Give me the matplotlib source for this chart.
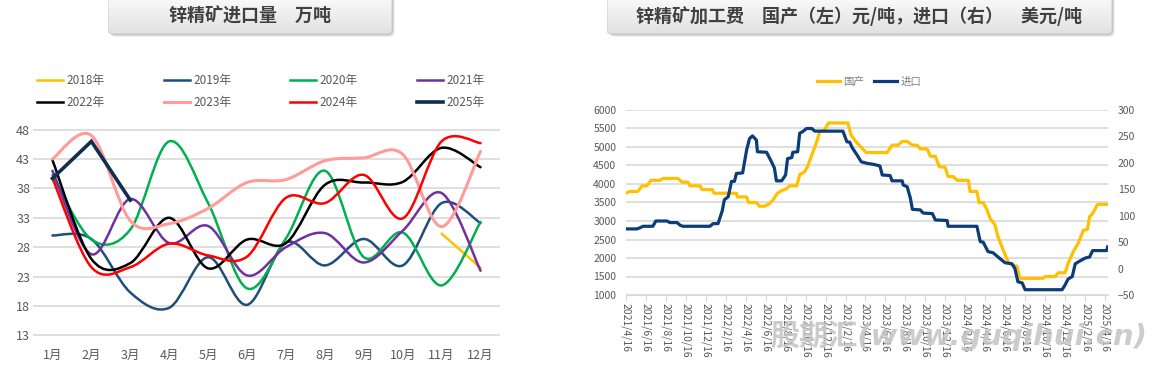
import numpy as np
import pandas as pd
import matplotlib
matplotlib.use('Agg')
import matplotlib.pyplot as plt
from matplotlib.path import Path
from matplotlib.patches import PathPatch, FancyBboxPatch
from matplotlib.lines import Line2D

plt.rcParams['font.family'] = ['Noto Sans CJK SC', 'DejaVu Sans']

# ---- left chart: monthly imports (10k t) ----
months = ['1月', '2月', '3月', '4月', '5月', '6月', '7月', '8月', '9月', '10月', '11月', '12月']
nan = np.nan
y2018 = [nan, nan, nan, nan, nan, nan, nan, nan, nan, nan, 30.3, 24.5]
y2019 = [30.0, 29.4, 20.3, 17.7, 26.3, 18.2, 28.8, 24.9, 29.4, 24.9, 35.5, 32.1]
y2020 = [40.3, 29.3, 31.0, 46.0, 35.5, 21.0, 29.5, 41.0, 26.3, 30.5, 21.5, 32.3]
y2021 = [41.0, 26.8, 36.2, 28.7, 31.6, 23.2, 28.0, 30.4, 25.4, 30.8, 37.2, 24.0]
y2022 = [42.8, 26.0, 25.3, 33.0, 24.4, 29.3, 28.7, 38.6, 39.0, 39.1, 44.9, 41.6]
y2023 = [43.0, 47.0, 32.5, 32.0, 34.6, 39.0, 39.5, 42.7, 43.2, 43.8, 31.5, 44.3]
y2024 = [39.7, 24.6, 24.6, 28.6, 26.6, 26.4, 36.4, 35.5, 40.3, 32.9, 46.0, 45.7]
y2025 = [39.7, 46.0, 36.0]

# ---- right chart: treatment charges ----
dom_dates = ['2021-04-16', '2021-04-28', '2021-05-22', '2021-06-04', '2021-06-19', '2021-07-01',
             '2021-07-28', '2021-08-07', '2021-09-22', '2021-10-04', '2021-10-22', '2021-10-28',
             '2021-11-28', '2021-12-04', '2022-01-04', '2022-01-10', '2022-03-19', '2022-03-22',
             '2022-04-19', '2022-04-25', '2022-05-19', '2022-05-28', '2022-06-13', '2022-06-28',
             '2022-07-07', '2022-07-22', '2022-08-04', '2022-08-19', '2022-08-28', '2022-09-19',
             '2022-09-28', '2022-10-13', '2022-10-22', '2022-11-04', '2022-11-19', '2022-11-28',
             '2022-12-13', '2022-12-25', '2023-02-22', '2023-03-04', '2023-03-19', '2023-04-04',
             '2023-04-19', '2023-06-22', '2023-07-07', '2023-07-25', '2023-08-07', '2023-08-22',
             '2023-09-07', '2023-09-22', '2023-10-01', '2023-10-22', '2023-11-01', '2023-11-16',
             '2023-11-28', '2023-12-16', '2023-12-25', '2024-01-10', '2024-01-22', '2024-02-25',
             '2024-03-01', '2024-03-22', '2024-03-28', '2024-04-10', '2024-04-22', '2024-05-01',
             '2024-05-16', '2024-05-25', '2024-06-10', '2024-06-25', '2024-07-10', '2024-07-22',
             '2024-07-31', '2024-10-10', '2024-10-16', '2024-11-16', '2024-11-25', '2024-12-16',
             '2024-12-25', '2025-01-10', '2025-01-25', '2025-02-10', '2025-02-22', '2025-03-01',
             '2025-03-10', '2025-03-25', '2025-04-25']
dom_vals = [3750, 3800, 3800, 3950, 3950, 4100,
            4100, 4150, 4150, 4050, 4050, 3950,
            3950, 3850, 3850, 3750, 3750, 3650,
            3650, 3500, 3500, 3400, 3400, 3470,
            3550, 3750, 3820, 3870, 3950, 3950,
            4250, 4330, 4470, 4780, 5140, 5410,
            5460, 5650, 5650, 5320, 5140, 4990,
            4850, 4850, 5050, 5050, 5150, 5150,
            5050, 5050, 4950, 4950, 4750, 4750,
            4470, 4450, 4200, 4200, 4100, 4100,
            3800, 3800, 3500, 3500, 3300, 3070,
            2900, 2580, 2220, 1900, 1800, 1780,
            1450, 1450, 1500, 1500, 1600, 1600,
            1850, 2170, 2400, 2750, 2770, 3120,
            3200, 3450, 3450]

imp_dates = ['2021-04-16', '2021-05-19', '2021-05-28', '2021-06-07', '2021-07-07', '2021-07-16',
             '2021-08-19', '2021-08-28', '2021-09-19', '2021-09-28', '2021-10-07', '2021-12-28',
             '2022-01-07', '2022-01-22', '2022-02-04', '2022-02-10', '2022-02-22', '2022-03-04',
             '2022-03-13', '2022-03-19', '2022-04-07', '2022-04-19', '2022-04-28', '2022-05-07',
             '2022-05-19', '2022-05-22', '2022-06-19', '2022-07-04', '2022-07-13', '2022-07-19',
             '2022-08-04', '2022-08-16', '2022-08-22', '2022-09-04', '2022-09-07', '2022-09-22',
             '2022-09-28', '2022-10-07', '2022-10-19', '2022-11-04', '2022-11-13', '2023-02-07',
             '2023-02-19', '2023-02-28', '2023-03-07', '2023-03-22', '2023-04-04', '2023-04-22',
             '2023-05-13', '2023-05-31', '2023-06-07', '2023-07-01', '2023-07-07', '2023-08-07',
             '2023-08-10', '2023-08-22', '2023-09-01', '2023-09-07', '2023-10-01', '2023-10-10',
             '2023-11-07', '2023-11-16', '2023-12-22', '2023-12-25', '2024-03-22', '2024-04-01',
             '2024-04-10', '2024-04-25', '2024-05-10', '2024-05-31', '2024-06-16', '2024-07-07',
             '2024-07-16', '2024-07-25', '2024-08-07', '2024-08-16', '2024-12-07', '2024-12-16',
             '2024-12-25', '2025-01-07', '2025-01-16', '2025-02-01', '2025-02-16', '2025-03-01',
             '2025-03-10', '2025-04-22', '2025-04-25']
imp_vals = [75, 75, 77, 80, 80, 90,
            90, 87, 87, 82, 80, 80,
            85, 85, 110, 130, 136, 165,
            165, 180, 181, 224, 246, 251,
            243, 221, 220, 202, 190, 166,
            166, 177, 208, 210, 220, 221,
            256, 259, 265, 265, 260, 260,
            240, 239, 229, 215, 202, 199,
            197, 194, 177, 176, 166, 166,
            158, 155, 133, 112, 111, 105,
            104, 92, 91, 80, 80, 51,
            50, 32, 30, 19, 11, 9,
            0, -25, -27, -40, -40, -31,
            -20, -15, 9, 15, 20, 22,
            34, 34, 41]

W, H = 1168, 366
fig = plt.figure(figsize=(W / 100, H / 100), dpi=100)
GRAY = '#595959'


def px_axes(x0, y0, x1, y1):
    # pixel box measured from the top-left corner
    return fig.add_axes([x0 / W, 1 - y1 / H, (x1 - x0) / W, (y1 - y0) / H])


def smooth_path(xs, ys):
    # Excel-like smoothed line: Catmull-Rom through the points as cubic Beziers
    pts = np.column_stack([xs, ys])
    n = len(pts)
    verts, codes = [pts[0]], [Path.MOVETO]
    for i in range(n - 1):
        p0 = pts[i - 1] if i > 0 else pts[i]
        p1, p2 = pts[i], pts[i + 1]
        p3 = pts[i + 2] if i + 2 < n else pts[i + 1]
        verts += [p1 + (p2 - p0) / 6, p2 - (p3 - p1) / 6, p2]
        codes += [Path.CURVE4] * 3
    return Path(verts, codes)


def banner(x0, x1, text):
    bw, bh, top = x1 - x0, 34, 10
    # soft shadow bottom-right
    for k, a in [(3, 0.10), (2, 0.18), (1, 0.25)]:
        sax = px_axes(x0 + k, -top + k, x1 + k, bh + k)
        sax.set_xlim(0, bw); sax.set_ylim(0, bh + top); sax.axis('off')
        sax.add_patch(FancyBboxPatch((0, 0), bw, bh + top, boxstyle='round,pad=0,rounding_size=5',
                                     fc='#7f7f7f', ec='none', alpha=a))
    bax = px_axes(x0, -top, x1, bh)
    bax.set_xlim(0, bw); bax.set_ylim(0, bh + top); bax.axis('off')
    box = FancyBboxPatch((0, 0), bw, bh + top, boxstyle='round,pad=0,rounding_size=5',
                         fc='none', ec='#d0d0d0', lw=0.8)
    bax.add_patch(box)
    grad = np.linspace(1.0, 0.88, 64).reshape(-1, 1)
    im = bax.imshow(grad, cmap='gray', vmin=0, vmax=1, extent=(0, bw, 0, bh + top),
                    aspect='auto', origin='upper')
    im.set_clip_path(box)
    # text centre about 16 px below the figure top
    bax.text(bw / 2, bh - 16, text, ha='center', va='center', fontsize=13,
             fontweight='bold', color='#404040')


banner(108, 392, '锌精矿进口量　万吨')
banner(607, 1112, '锌精矿加工费　国产（左）元/吨，进口（右）　美元/吨')

# ---- left chart ----
ax1 = px_axes(33, 129, 500, 336)
x = np.arange(12)
series = [('2018年', y2018, '#FFC000', 1.8), ('2019年', y2019, '#1F4E79', 1.8),
          ('2020年', y2020, '#00B050', 1.8), ('2021年', y2021, '#7030A0', 1.8),
          ('2022年', y2022, '#000000', 1.8), ('2023年', y2023, '#FF9B9B', 2.2),
          ('2024年', y2024, '#FF0000', 1.8)]
handles = {}
for name, vals, col, lw in series:
    v = np.array(vals, dtype=float)
    ok = ~np.isnan(v)
    ax1.add_patch(PathPatch(smooth_path(x[ok], v[ok]), fill=False, ec=col, lw=lw,
                            capstyle='round', joinstyle='round'))
    handles[name] = Line2D([], [], color=col, lw=lw)
ax1.plot(x[:len(y2025)], y2025, color='#112E4F', lw=2.6, solid_joinstyle='miter')
handles['2025年'] = Line2D([], [], color='#112E4F', lw=2.6)

ax1.set_xlim(-0.5, 11.5)
ax1.set_ylim(12.9, 48.1)
ax1.set_yticks(range(13, 49, 5))
ax1.set_xticks(x)
ax1.set_xticklabels(months)
ax1.yaxis.grid(True, color='#d9d9d9', lw=1.2)
ax1.set_axisbelow(True)
for s in ax1.spines.values():
    s.set_visible(False)
ax1.tick_params(length=0, labelsize=9, colors=GRAY)
ax1.tick_params(axis='x', pad=9)
ax1.tick_params(axis='y', pad=2)

order = ['2018年', '2022年', '2019年', '2023年', '2020年', '2024年', '2021年', '2025年']
fig.legend([handles[k] for k in order], order, ncol=4, loc='upper left',
           bbox_to_anchor=(37 / W, 1 - 74 / H), frameon=False, fontsize=8.5,
           handlelength=2.2, handletextpad=0.3, columnspacing=5.0, labelspacing=0.75,
           borderpad=0, borderaxespad=0, labelcolor=GRAY)

# ---- right chart ----
ax2 = px_axes(626, 110, 1108, 295)
ax3 = ax2.twinx()
ln1, = ax2.plot(pd.to_datetime(dom_dates), dom_vals, color='#FFC000', lw=2.3)
ln2, = ax3.plot(pd.to_datetime(imp_dates), imp_vals, color='#0B3D78', lw=2.3)

ax2.set_ylim(1000, 6000)
ax2.set_yticks(range(1000, 6001, 500))
ax3.set_ylim(-50, 300)
ax3.set_yticks(range(-50, 301, 50))
ax2.set_xlim(pd.Timestamp('2021-04-16'), pd.Timestamp('2025-04-26'))

ticks = [pd.Timestamp('2021-04-16') + pd.DateOffset(months=2 * k) for k in range(25)]
ax2.set_xticks(ticks)
ax2.set_xticklabels([f'{t.year}/{t.month}/{t.day}' for t in ticks], rotation=270,
                    va='top', ha='center')
ax2.yaxis.grid(True, color='#d9d9d9', lw=1.2)
ax2.set_axisbelow(True)
for a in (ax2, ax3):
    for s in a.spines.values():
        s.set_visible(False)
ax2.spines['bottom'].set_visible(True)
ax2.spines['bottom'].set_color('#d9d9d9')
ax2.tick_params(axis='x', length=4, color='#d9d9d9', labelsize=7.5, labelcolor=GRAY, pad=2)
ax2.tick_params(axis='y', length=0, labelsize=7.5, labelcolor=GRAY, pad=7)
ax3.tick_params(axis='y', length=0, labelsize=7.5, labelcolor=GRAY, pad=7)

fig.legend([ln1, ln2], ['国产', '进口'], ncol=2, loc='upper left',
           bbox_to_anchor=(817 / W, 1 - 77 / H), frameon=False, fontsize=7.5,
           handlelength=2.2, handletextpad=0.3, columnspacing=1.0,
           borderpad=0, borderaxespad=0, labelcolor='#808080')

# watermark
fig.text(770 / W, 1 - 345 / H, '股期汇(www.guqihui.cn)', fontsize=21, fontweight='bold',
         style='italic', color='#c4c4c4', alpha=0.85, va='baseline',
         family=['DejaVu Sans', 'Noto Sans CJK SC'])

fig.savefig('out.png', dpi=100)
